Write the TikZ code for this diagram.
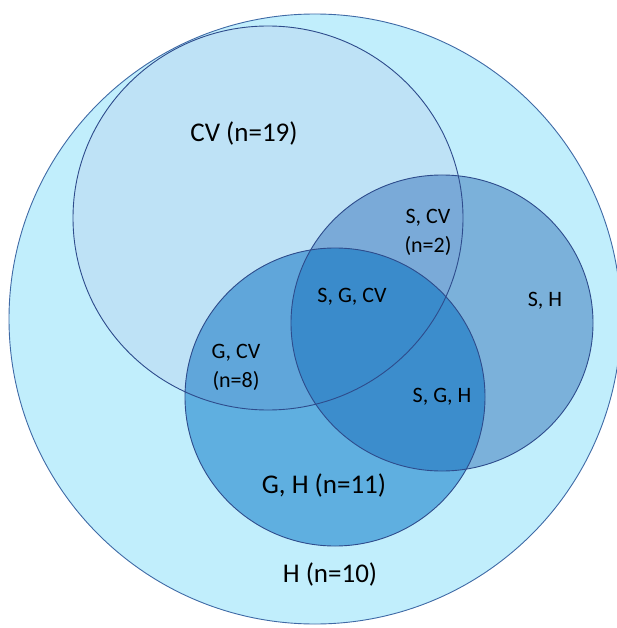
\documentclass[tikz,border=0pt]{standalone}
\usepackage{fontspec}
\setmainfont{Carlito}
\definecolor{cH}{HTML}{C1EEFC}
\definecolor{cCV}{HTML}{BEE2F6}
\definecolor{cS}{HTML}{7BB1DA}
\definecolor{cG}{HTML}{5FAFE0}
\definecolor{cSCV}{HTML}{7AAAD8}
\definecolor{cGCV}{HTML}{60A6DA}
\definecolor{cSG}{HTML}{3C8DCC}
\definecolor{cSGCV}{HTML}{3A8BCB}
\definecolor{edgeH}{HTML}{3F6AA6}
\definecolor{edgeC}{HTML}{2E4C8C}
\begin{document}
\begin{tikzpicture}[x=1pt,y=-1pt,
  outline/.style={draw=edgeC,line width=0.9pt},
  biglabel/.style={font=\fontsize{27}{32}\selectfont,text=black,inner sep=0pt},
  smalllabel/.style={font=\fontsize{22}{29}\selectfont,text=black,inner sep=0pt,align=center}]
\useasboundingbox (0,0) rectangle (617,628);
\def\pH{(315,319) ellipse [x radius=306pt, y radius=305pt]}
\def\pCV{(268,218) ellipse [x radius=195pt, y radius=192pt]}
\def\pS{(442,323) ellipse [x radius=151pt, y radius=148pt]}
\def\pG{(335,397) ellipse [x radius=150pt, y radius=149pt]}
\begin{scope}
\clip (0,0) rectangle (617,628);
\fill[cH] \pH;
\fill[cCV] \pCV;
\fill[cS] \pS;
\fill[cG] \pG;
\begin{scope}
\clip \pCV;
\fill[cSCV] \pS;
\fill[cGCV] \pG;
\end{scope}
\begin{scope}
\clip \pS;
\fill[cSG] \pG;
\clip \pCV;
\fill[cSGCV] \pG;
\end{scope}
\draw[draw=edgeH,line width=0.9pt] \pH;
\draw[outline] \pCV;
\draw[outline] \pS;
\draw[outline] \pG;
\end{scope}
\node[biglabel] (cv) at (244,133) {CV (n=19)};
\node[smalllabel] (scv) at (428,232) {S, CV\\(n=2)};
\node[smalllabel] (sh) at (545,301) {S, H};
\node[smalllabel] (sgcv) at (352,297) {S, G, CV};
\node[smalllabel] (gcv) at (236,367) {G, CV\\(n=8)};
\node[smalllabel] (sgh) at (442,397) {S, G, H};
\node[biglabel] (gh) at (324,485) {G, H (n=11)};
\node[biglabel] (h) at (330,574) {H (n=10)};
\end{tikzpicture}
\end{document}
